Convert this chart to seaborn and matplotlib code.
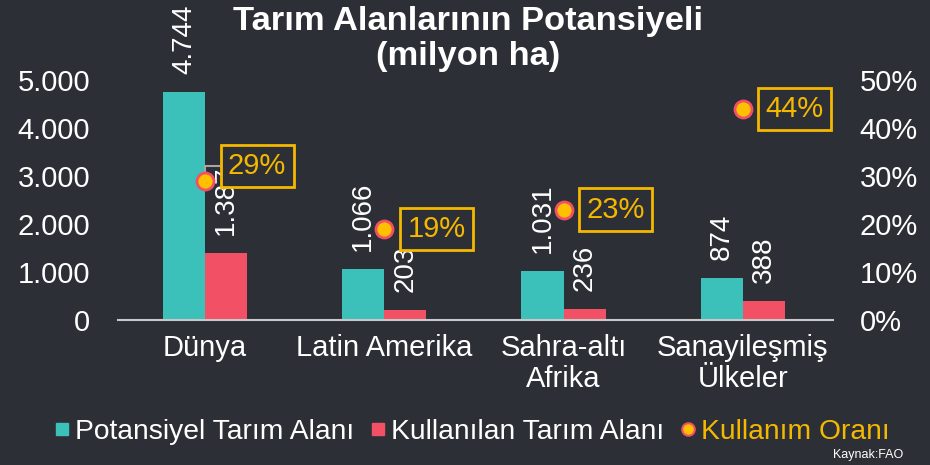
import numpy as np
import pandas as pd
import matplotlib
matplotlib.use("Agg")
import matplotlib.pyplot as plt
import seaborn as sns
from matplotlib.lines import Line2D

categories = ["Dünya", "Latin Amerika", "Sahra-altı\nAfrika", "Sanayileşmiş\nÜlkeler"]
potansiyel = [4744, 1066, 1031, 874]
kullanilan = [1387, 203, 236, 388]
oran = [29, 19, 23, 44]
series_names = ["Potansiyel Tarım Alanı", "Kullanılan Tarım Alanı", "Kullanım Oranı"]
left_ticks = [0, 1000, 2000, 3000, 4000, 5000]
left_labels = ["0", "1.000", "2.000", "3.000", "4.000", "5.000"]
right_ticks = [0, 10, 20, 30, 40, 50]
right_labels = ["0%", "10%", "20%", "30%", "40%", "50%"]

BG = "#2d2f36"
TEAL = "#3bc1b9"
RED = "#f25064"
YEL = "#ffc000"
YEL_TXT = "#f5b800"
WHITE = "#ffffff"

sns.set_theme(style="dark")
plt.rcParams["font.family"] = ["Liberation Sans", "DejaVu Sans"]

df = pd.DataFrame({
    "cat": categories * 2,
    "val": potansiyel + kullanilan,
    "series": [series_names[0]] * 4 + [series_names[1]] * 4,
})

fig = plt.figure(figsize=(9.3, 4.65), dpi=100, facecolor=BG)
ax = fig.add_axes([118 / 930, 1 - 320 / 465, (833 - 118) / 930, 240 / 465])
ax.set_facecolor(BG)

sns.barplot(data=df, x="cat", y="val", hue="series", order=categories,
            hue_order=series_names[:2], palette=[TEAL, RED], width=0.47,
            saturation=1, ax=ax, legend=False, edgecolor="none")

ax.set_xlim(-0.486, 3.503)
ax.set_ylim(0, 5000)
ax.set_yticks(left_ticks)
ax.set_yticklabels(left_labels)
ax.set_xlabel("")
ax.set_ylabel("")
ax.grid(False)
for s in ["top", "right", "left"]:
    ax.spines[s].set_visible(False)
ax.spines["bottom"].set_color("#c8c8c8")
ax.spines["bottom"].set_linewidth(1.5)
ax.tick_params(axis="y", colors=WHITE, labelsize=21, length=0, pad=20)
ax.tick_params(axis="x", colors=WHITE, labelsize=21, length=0, pad=10)
for t in ax.get_xticklabels():
    t.set_linespacing(1.15)

# value labels on bars
for cont in ax.containers:
    for rect in cont:
        h = rect.get_height()
        ax.annotate(f"{h:,.0f}".replace(",", "."),
                    (rect.get_x() + rect.get_width() / 2, h),
                    xytext=(0, 18), textcoords="offset pixels",
                    rotation=90, ha="center", va="bottom",
                    color=WHITE, fontsize=20, annotation_clip=False)

ax2 = ax.twinx()
ax2.set_ylim(0, 50)
ax2.set_yticks(right_ticks)
ax2.set_yticklabels(right_labels)
ax2.tick_params(axis="y", colors=WHITE, labelsize=21, length=0, pad=19)
for s in ax2.spines.values():
    s.set_visible(False)
ax2.grid(False)

xs = np.arange(len(categories))
sns.scatterplot(x=xs, y=oran, ax=ax2, s=150, color=YEL, edgecolor=RED,
                linewidth=2, zorder=5, legend=False)

for i, (x, v) in enumerate(zip(xs, oran)):
    dy = 15 if i == 0 else 0
    kw = {}
    if i == 0:
        kw["arrowprops"] = dict(arrowstyle="-", color="#a6a6a6", lw=1.5,
                                connectionstyle="angle,angleA=0,angleB=90,rad=0",
                                shrinkA=0, shrinkB=0)
    ax2.annotate(f"{v}%", (x, v), xytext=(52, dy), textcoords="offset pixels",
                 ha="center", va="center", color=YEL_TXT, fontsize=21,
                 bbox=dict(boxstyle="square,pad=0.25", fc=BG, ec=YEL_TXT, lw=2),
                 annotation_clip=False, **kw)

# title
fig.text(0.503, 1 - 6 / 465, "Tarım Alanlarının Potansiyeli\n(milyon ha)",
         ha="center", va="top", color=WHITE, fontsize=24.8, fontweight="bold",
         linespacing=1.18)

handles = [
    Line2D([], [], marker="s", linestyle="none", markersize=8, color=TEAL),
    Line2D([], [], marker="s", linestyle="none", markersize=8, color=RED),
    Line2D([], [], marker="o", linestyle="none", markersize=9,
           markerfacecolor=YEL, markeredgecolor=RED, markeredgewidth=1.5),
]
leg = fig.legend(handles, series_names, loc="center", ncol=3,
                 bbox_to_anchor=(0.508, 1 - 432 / 465), frameon=False,
                 fontsize=20.3, handlelength=0.5, handletextpad=0.2,
                 columnspacing=0.6)
for t, c in zip(leg.get_texts(), [WHITE, WHITE, YEL_TXT]):
    t.set_color(c)

fig.text(903 / 930, 1 - 455 / 465, "Kaynak:FAO", ha="right", va="center",
         color=WHITE, fontsize=9)

fig.savefig("out.png", dpi=100, facecolor=BG)
